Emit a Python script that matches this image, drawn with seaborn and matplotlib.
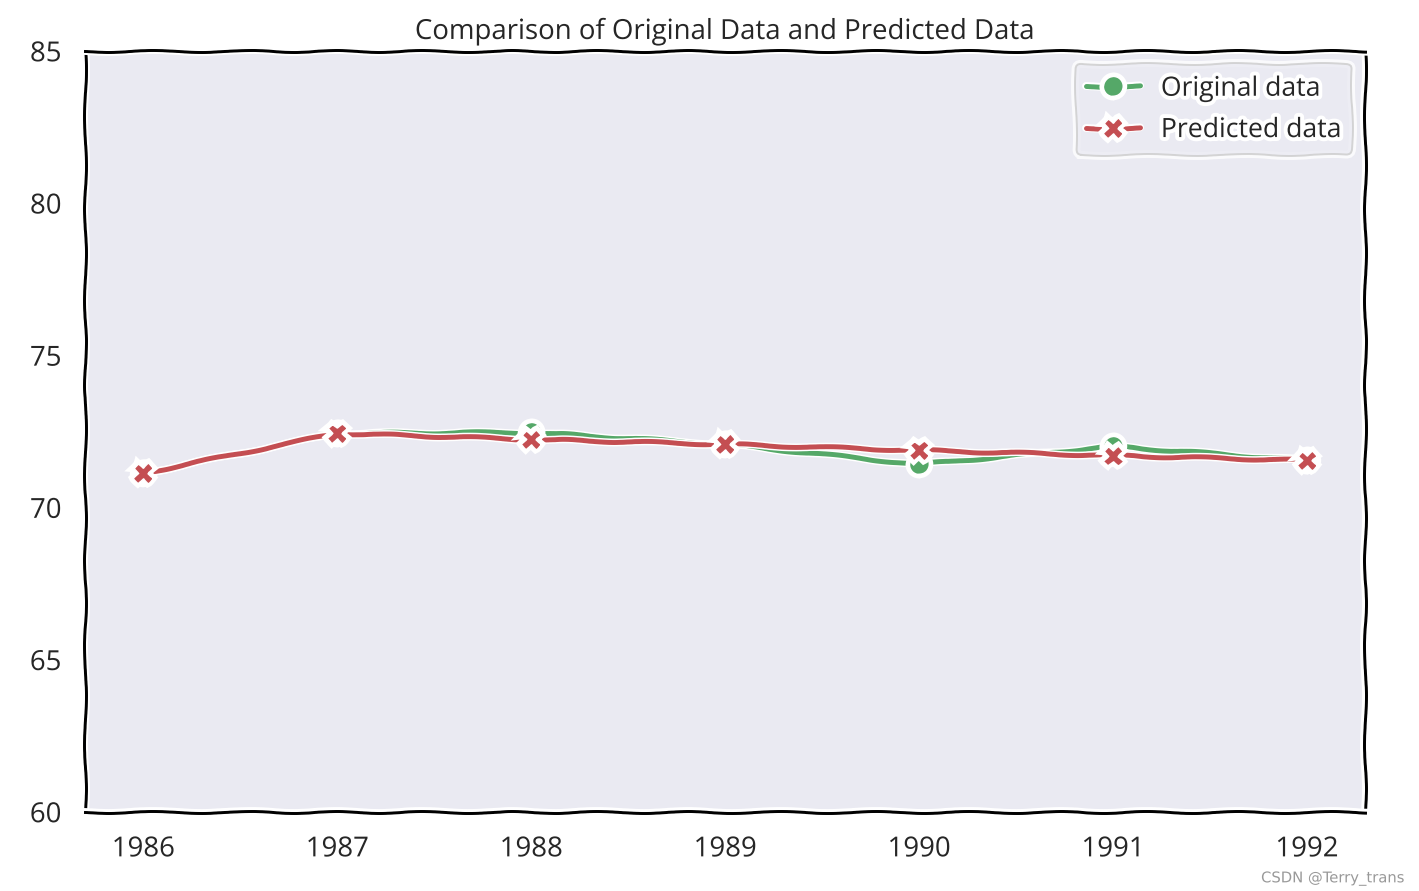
import pandas as pd
import matplotlib.pyplot as plt
import seaborn as sns

years = [1986, 1987, 1988, 1989, 1990, 1991, 1992]
original = [71.12, 72.43, 72.46, 72.07, 71.41, 72.00, 71.54]
predicted = [71.12, 72.43, 72.23, 72.07, 71.87, 71.70, 71.54]
y_ticks = [60, 65, 70, 75, 80, 85]

sns.set_theme(style='darkgrid', color_codes=True)
plt.xkcd()
plt.rcParams['font.family'] = ['Open Sans', 'DejaVu Sans']
plt.rcParams['axes.facecolor'] = '#EAEAF2'

df = pd.DataFrame({'year': years, 'original': original, 'predicted': predicted})

fig, ax = plt.subplots(figsize=(1419 / 142, 891 / 142), dpi=142)
sns.lineplot(data=df, x='year', y='original', color='g', marker='o', markersize=10,
             linewidth=2.5, label='Original data', ax=ax)
sns.lineplot(data=df, x='year', y='predicted', color='r', marker='X', markersize=10,
             linewidth=2.5, label='Predicted data', ax=ax)

ax.set_ylim(60, 85)
ax.set_yticks(y_ticks)
ax.set_xticks(years)
ax.set_xticklabels([str(y) for y in years])
ax.tick_params(length=0, labelsize=14, pad=12)
ax.set_xlabel('')
ax.set_ylabel('')
ax.set_title('Comparison of Original Data and Predicted Data', fontsize=14)
ax.legend(loc='upper right', fontsize=13.5, frameon=True, edgecolor='#cccccc')
for s in ax.spines.values():
    s.set_color('black')
    s.set_linewidth(1.5)

fig.subplots_adjust(left=0.06, right=0.962, top=0.943, bottom=0.089)
fig.text(0.99, 0.005, 'CSDN @Terry_trans', ha='right', va='bottom', fontsize=7.5,
         color='#999999', family='DejaVu Sans')
fig.savefig('out.png', dpi=142)
